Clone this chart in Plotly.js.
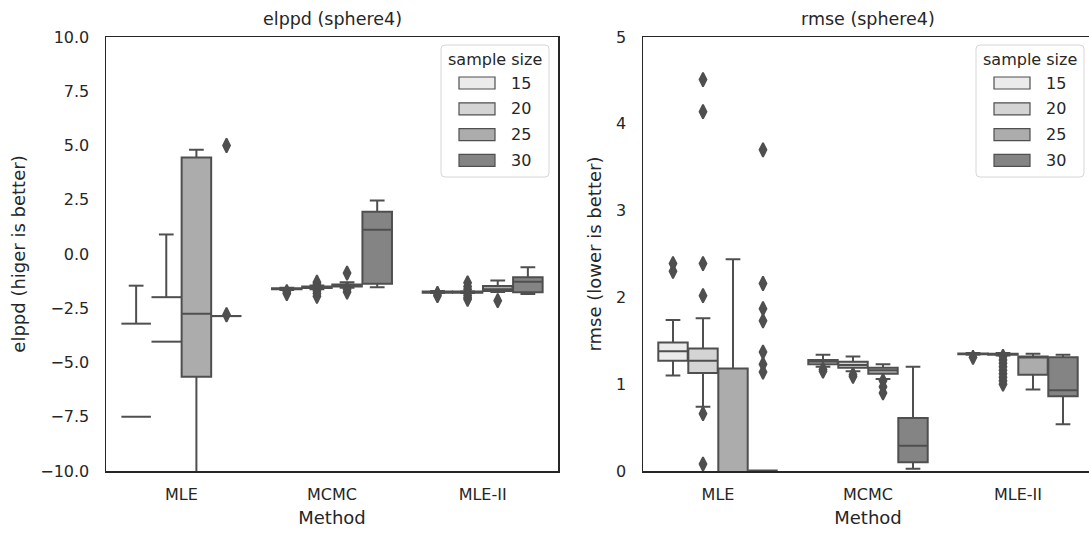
<!DOCTYPE html>
<html><head><meta charset="utf-8">
<script src="https://cdn.plot.ly/plotly-3.0.1.min.js"></script>
<style>html,body{margin:0;padding:0;overflow:hidden;background:#fff}#chart{width:1095px;height:537px}</style>
</head><body><div id="chart"></div><script>
// ---------------- data (rows = sample size, columns = method) ----------------
const methods = ['MLE', 'MCMC', 'MLE-II'];
const sampleSizes = ['15', '20', '25', '30'];
const elppdTicks = [-10, -7.5, -5, -2.5, 0, 2.5, 5, 7.5, 10];
const elppdTickText = ['\u221210.0', '\u22127.5', '\u22125.0', '\u22122.5', '0.0', '2.5', '5.0', '7.5', '10.0'];
const rmseTicks = [0, 1, 2, 3, 4, 5];
const rmseTickText = ['0', '1', '2', '3', '4', '5'];

// elppd; null q1 = box lies far below the axis and only its upper parts show
const elppdQ1 = [[null, -1.62, -1.78], [null, -1.57, -1.78], [-5.66, -1.50, -1.71], [null, -1.37, -1.76]];
const elppdMedian = [[-7.50, -1.60, -1.75], [-4.04, -1.53, -1.76], [-2.75, -1.45, -1.62], [-2.86, 1.12, -1.28]];
const elppdQ3 = [[-3.21, -1.58, -1.73], [-1.99, -1.50, -1.73], [4.45, -1.40, -1.48], [-2.86, 1.95, -1.07]];
const elppdLow = [[null, -1.66, -1.80], [null, -1.62, -1.80], [-40, -1.55, -1.75], [null, -1.53, -1.84]];
const elppdHigh = [[-1.46, -1.55, -1.70], [0.90, -1.45, -1.72], [4.80, -1.30, -1.22], [-2.86, 2.47, -0.61]];
const elppdOutliers = [
  [[], [-1.74, -1.82], [-1.82, -1.92]],
  [[], [-1.30, -1.38, -1.70, -1.82, -1.95], [-1.33, -1.50, -1.62, -1.90, -2.00, -2.09]],
  [[], [-0.88, -1.62, -1.75], [-2.15]],
  [[5.00, -2.80], [], []]
];

// rmse
const rmseQ1 = [[1.27, 1.23, 1.345], [1.13, 1.19, 1.34], [-1.0, 1.12, 1.11], [0.005, 0.10, 0.86]];
const rmseMedian = [[1.38, 1.26, 1.35], [1.27, 1.22, 1.345], [-0.5, 1.16, 1.31], [0.005, 0.29, 0.93]];
const rmseQ3 = [[1.48, 1.28, 1.355], [1.41, 1.26, 1.35], [1.18, 1.19, 1.32], [0.005, 0.61, 1.31]];
const rmseLow = [[1.10, 1.20, 1.34], [0.74, 1.15, 1.33], [-2.0, 1.06, 0.94], [0.005, 0.025, 0.54]];
const rmseHigh = [[1.74, 1.34, 1.36], [1.76, 1.32, 1.36], [2.44, 1.23, 1.35], [0.005, 1.20, 1.34]];
const rmseOutliers = [
  [[2.30, 2.39], [1.17, 1.15], [1.31]],
  [[4.51, 4.14, 2.39, 2.02, 0.66, 0.08], [1.11, 1.09], [1.32, 1.28, 1.24, 1.20, 1.16, 1.12, 1.08, 1.04, 1.00]],
  [[], [1.04, 0.97, 0.90], []],
  [[3.70, 2.16, 1.87, 1.73, 1.37, 1.23, 1.14], [], []]
];

// ---------------- style / layout ----------------
const fills = ['#ebebeb', '#d4d4d4', '#acacac', '#848484'];
const edge = '#4f4f4f';
const ink = '#262626';
const FONT = 'DejaVu Sans';
const W = 1095, H = 537, ML = 106, MR = 2, MT = 37, MB = 66;
const plotW = W - ML - MR, plotH = H - MT - MB;
const leftPx = [0, 452], rightPx = [537, 987];
const dom = p => [p[0] / plotW, p[1] / plotW];
const groupWidth = 0.8, boxW = groupWidth / sampleSizes.length * 0.98;
const hueOffset = h => (h - (sampleSizes.length - 1) / 2) * (groupWidth / sampleSizes.length);

function panel(q1, med, q3, lo, hi, outl, xa, ya) {
  const traces = [];
  const lx = [], ly = [];
  const ox = [], oy = [];
  sampleSizes.forEach((s, h) => {
    const xs = [], a = [], b = [], c = [], d = [], e = [];
    methods.forEach((m, i) => {
      const x = i + hueOffset(h);
      if (q1[h][i] === null) {
        const half = boxW / 2;
        lx.push(x - half, x + half, null, x - half, x + half, null);
        ly.push(q3[h][i], q3[h][i], null, med[h][i], med[h][i], null);
        if (hi[h][i] > q3[h][i]) {
          lx.push(x, x, null, x - half / 2, x + half / 2, null);
          ly.push(q3[h][i], hi[h][i], null, hi[h][i], hi[h][i], null);
        }
      } else {
        xs.push(x); a.push(q1[h][i]); b.push(med[h][i]); c.push(q3[h][i]);
        d.push(lo[h][i]); e.push(hi[h][i]);
      }
      outl[h][i].forEach(v => { ox.push(x); oy.push(v); });
    });
    traces.push({
      type: 'box', x: xs, q1: a, median: b, q3: c, lowerfence: d, upperfence: e,
      width: boxW, whiskerwidth: 0.5, fillcolor: fills[h], line: { color: edge, width: 2 },
      boxpoints: false, xaxis: xa, yaxis: ya, showlegend: false, hoverinfo: 'skip'
    });
  });
  traces.push({ type: 'scatter', mode: 'lines', x: lx, y: ly, line: { color: edge, width: 2 },
    connectgaps: false, xaxis: xa, yaxis: ya, showlegend: false, hoverinfo: 'skip' });
  traces.push({ type: 'scatter', mode: 'markers', x: ox, y: oy,
    marker: { symbol: 'diamond-tall', size: 10, color: edge, line: { width: 1.8, color: edge } },
    xaxis: xa, yaxis: ya, showlegend: false, hoverinfo: 'skip', cliponaxis: true });
  return traces;
}

const data = [].concat(
  panel(elppdQ1, elppdMedian, elppdQ3, elppdLow, elppdHigh, elppdOutliers, 'x', 'y'),
  panel(rmseQ1, rmseMedian, rmseQ3, rmseLow, rmseHigh, rmseOutliers, 'x2', 'y2')
);

function xAxis(domain, anchor) {
  return { domain: domain, anchor: anchor, range: [-0.5, 2.5], tickvals: methods.map((m, i) => i),
    ticktext: methods, showline: true, mirror: true, linecolor: ink, linewidth: 1.5, showgrid: false,
    zeroline: false, ticks: '', ticklabelstandoff: 8, tickfont: { size: 16, color: ink },
    title: { text: 'Method', font: { size: 18, color: ink }, standoff: 8 }, fixedrange: true };
}
function yAxis(range, vals, text, title, anchor) {
  return { domain: [0, 1], anchor: anchor, range: range, tickvals: vals, ticktext: text,
    showline: true, mirror: true, linecolor: ink, linewidth: 1.5, showgrid: false, zeroline: false,
    ticks: '', ticklabelstandoff: 12, tickfont: { size: 16, color: ink },
    title: { text: title, font: { size: 18, color: ink }, standoff: 10 }, fixedrange: true };
}

// manual legends (seaborn style wide swatches, rounded frame)
const shapes = [], annotations = [];
function legend(xref, yref, pw) {
  const fx = px => 1 - px / pw, fy = px => 1 - px / plotH;
  const rx = 4 / pw, ry = 4 / plotH;
  const L = fx(117), R = fx(9), B = fy(140), T = fy(8);
  const path = 'M' + (L + rx) + ',' + T + ' L' + (R - rx) + ',' + T + ' Q' + R + ',' + T + ' ' + R + ',' + (T - ry) +
    ' L' + R + ',' + (B + ry) + ' Q' + R + ',' + B + ' ' + (R - rx) + ',' + B +
    ' L' + (L + rx) + ',' + B + ' Q' + L + ',' + B + ' ' + L + ',' + (B + ry) +
    ' L' + L + ',' + (T - ry) + ' Q' + L + ',' + T + ' ' + (L + rx) + ',' + T + ' Z';
  shapes.push({ type: 'path', xref: xref, yref: yref, path: path,
    line: { color: '#d6d6d6', width: 1 }, fillcolor: 'rgba(255,255,255,0.8)' });
  annotations.push({ xref: xref, yref: yref, x: fx(63), y: fy(22), text: 'sample size', showarrow: false,
    xanchor: 'center', yanchor: 'middle', font: { size: 16, color: ink } });
  sampleSizes.forEach((s, h) => {
    const cy = 46 + 25.8 * h;
    shapes.push({ type: 'rect', xref: xref, yref: yref, x0: fx(99), x1: fx(63), y0: fy(cy + 6), y1: fy(cy - 6),
      line: { color: edge, width: 1.2 }, fillcolor: fills[h] });
    annotations.push({ xref: xref, yref: yref, x: fx(49), y: fy(cy), text: s, showarrow: false,
      xanchor: 'left', yanchor: 'middle', font: { size: 16, color: ink } });
  });
}
legend('x domain', 'y domain', leftPx[1] - leftPx[0]);
legend('x2 domain', 'y2 domain', rightPx[1] - rightPx[0]);

annotations.push({ xref: 'x domain', yref: 'y domain', x: 0.5, y: 1, yshift: 6, text: 'elppd (sphere4)',
  showarrow: false, xanchor: 'center', yanchor: 'bottom', font: { size: 17.5, color: ink } });
annotations.push({ xref: 'x2 domain', yref: 'y2 domain', x: 0.5, y: 1, yshift: 6, text: 'rmse (sphere4)',
  showarrow: false, xanchor: 'center', yanchor: 'bottom', font: { size: 17.5, color: ink } });

const layout = {
  width: W, height: H, margin: { l: ML, r: MR, t: MT, b: MB, pad: 0 },
  paper_bgcolor: '#ffffff', plot_bgcolor: '#ffffff',
  font: { family: FONT, color: ink, size: 16 },
  showlegend: false, boxmode: 'overlay',
  xaxis: xAxis(dom(leftPx), 'y'),
  yaxis: yAxis([-10, 10], elppdTicks, elppdTickText, 'elppd (higer is better)', 'x'),
  xaxis2: xAxis(dom(rightPx), 'y2'),
  yaxis2: yAxis([0, 5], rmseTicks, rmseTickText, 'rmse (lower is better)', 'x2'),
  shapes: shapes, annotations: annotations
};
Plotly.newPlot('chart', data, layout, { displayModeBar: false, staticPlot: true });
</script></body></html>
